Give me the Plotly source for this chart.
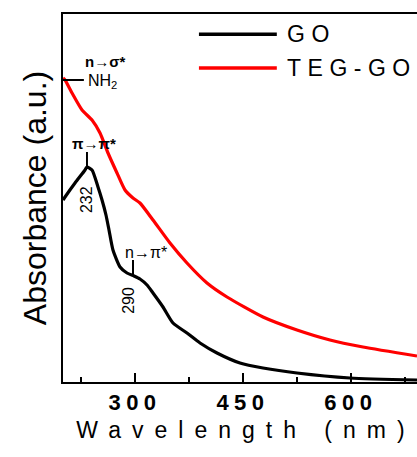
import plotly.graph_objects as go

# GO spectrum (wavelength nm, absorbance a.u.)
go_wl = [200, 202.8, 216.7, 230.6, 233.3, 240.3, 248.6, 254.2, 259.7, 263.9, 269.4,
         279.2, 288.9, 298.6, 306.9, 316.7, 325, 338.9, 352.8, 372.2, 390.3, 413.9,
         445.8, 477.8, 525, 598.6, 691.7]
go_abs = [0.91, 0.925, 0.995, 1.06, 1.075, 1.06, 0.975, 0.91, 0.835, 0.76, 0.66,
          0.575, 0.545, 0.53, 0.515, 0.485, 0.445, 0.375, 0.295, 0.245, 0.195, 0.145,
          0.095, 0.07, 0.045, 0.02, 0.01]

# TEG-GO spectrum
teg_wl = [200, 202.8, 212.5, 226.4, 240.3, 251.4, 262.5, 275, 286.1, 297.2, 306.9,
          325, 348.6, 372.2, 400, 427.8, 477.8, 525, 570.8, 616.7, 691.7]
teg_abs = [1.52, 1.51, 1.445, 1.36, 1.31, 1.245, 1.145, 1.045, 0.96, 0.92, 0.895,
           0.81, 0.695, 0.595, 0.495, 0.425, 0.325, 0.26, 0.21, 0.175, 0.13]

x_ticks = [300, 450, 600]
x_tick_labels = ["300", "450", "600"]
series_names = ["GO", "TEG-GO"]
series_colors = ["#000000", "#ff0000"]

FONT = "Arial, Liberation Sans, sans-serif"

fig = go.Figure()
fig.add_trace(go.Scatter(x=go_wl, y=go_abs, mode="lines", name=series_names[0],
                         line=dict(color=series_colors[0], width=3.2, shape="spline", smoothing=0.6)))
fig.add_trace(go.Scatter(x=teg_wl, y=teg_abs, mode="lines", name=series_names[1],
                         line=dict(color=series_colors[1], width=3.2, shape="spline", smoothing=0.6)))

annotations = [
    dict(x=258, y=1.605, text="<b>n→σ*</b>", showarrow=False, font=dict(size=15)),
    dict(x=232, y=1.505, text="NH<sub>2</sub>", showarrow=False, xanchor="left", font=dict(size=16)),
    dict(x=243, y=1.195, text="<b>π→π*</b>", showarrow=False, font=dict(size=15)),
    dict(x=232, y=0.91, text="232", textangle=-90, showarrow=False, font=dict(size=16)),
    dict(x=315, y=0.65, text="n→π*", showarrow=False, font=dict(size=16)),
    dict(x=290, y=0.41, text="290", textangle=-90, showarrow=False, font=dict(size=16)),
]
for a in annotations:
    a["font"]["family"] = FONT
    a["font"]["color"] = "black"

shapes = [
    dict(type="line", x0=200, x1=229, y0=1.51, y1=1.51, line=dict(color="black", width=2)),
    dict(type="line", x0=233.3, x1=233.3, y0=1.15, y1=1.075, line=dict(color="black", width=2)),
    dict(type="line", x0=297.2, x1=297.2, y0=0.61, y1=0.535, line=dict(color="black", width=2)),
]

# legend drawn in paper coordinates
leg_y = [0.945, 0.853]
for name, color, ly in zip(series_names, series_colors, leg_y):
    shapes.append(dict(type="line", xref="paper", yref="paper", x0=0.384, x1=0.604,
                       y0=ly, y1=ly, line=dict(color=color, width=3.5)))
    annotations.append(dict(xref="paper", yref="paper", x=0.628, y=ly, text=name,
                            showarrow=False, xanchor="left", yanchor="middle",
                            font=dict(family=FONT, size=23, color="black")))

fig.update_layout(
    width=417, height=457,
    margin=dict(l=63, r=0, t=14, b=75),
    paper_bgcolor="white", plot_bgcolor="white",
    showlegend=False,
    font=dict(family=FONT, color="black"),
    annotations=annotations,
    shapes=shapes,
    xaxis=dict(
        range=[200, 691.7], tickvals=x_ticks, ticktext=x_tick_labels,
        ticks="inside", ticklen=9, tickwidth=2, tickcolor="black",
        minor=dict(dtick=75, tick0=0, ticks="inside", ticklen=5, tickwidth=1.5, tickcolor="black"),
        showline=True, linecolor="black", linewidth=2, mirror=True,
        showgrid=False, zeroline=False,
        tickfont=dict(size=22, family=FONT, weight="bold"),
        title=dict(text="Wavelength (nm)", font=dict(size=23, family=FONT), standoff=7),
        automargin=False,
    ),
    yaxis=dict(
        range=[0, 1.84], showticklabels=False, ticks="",
        showline=True, linecolor="black", linewidth=2,
        showgrid=False, zeroline=False,
        title=dict(text="Absorbance (a.u.)", font=dict(size=32, family=FONT), standoff=0),
        automargin=False,
    ),
)

# remove the page margin, and widen the letter spacing of the axis texts and
# legend labels as in the original figure
post = """
document.body.style.margin = '0';
document.documentElement.style.overflow = 'hidden';
var gd = document.getElementById('{plot_id}');
function spacing() {
  gd.querySelectorAll('.xtitle').forEach(function(e){
    e.setAttribute('letter-spacing', '11px'); e.setAttribute('dx', '6'); });
  gd.querySelectorAll('.ytitle').forEach(function(e){
    if (!e.hasAttribute('data-orig-tf')) { e.setAttribute('data-orig-tf', e.getAttribute('transform') || ''); }
    e.setAttribute('transform', 'translate(-5,0) ' + e.getAttribute('data-orig-tf'));
  });
  gd.querySelectorAll('.xtick text').forEach(function(e){ e.setAttribute('letter-spacing', '5.5px'); });
  gd.querySelectorAll('.annotation-text').forEach(function(e){
    var t = e.textContent;
    if (t === 'GO' || t === 'TEG-GO') {
      e.setAttribute('letter-spacing', '6.5px');
      e.setAttribute('dx', String(t.length * 6.5 / 2));
    }
  });
}
spacing();
if (gd.on) { gd.on('plotly_afterplot', spacing); }
setTimeout(spacing, 30);
"""
fig.write_html("out.html", post_script=post, config={"displayModeBar": False})
